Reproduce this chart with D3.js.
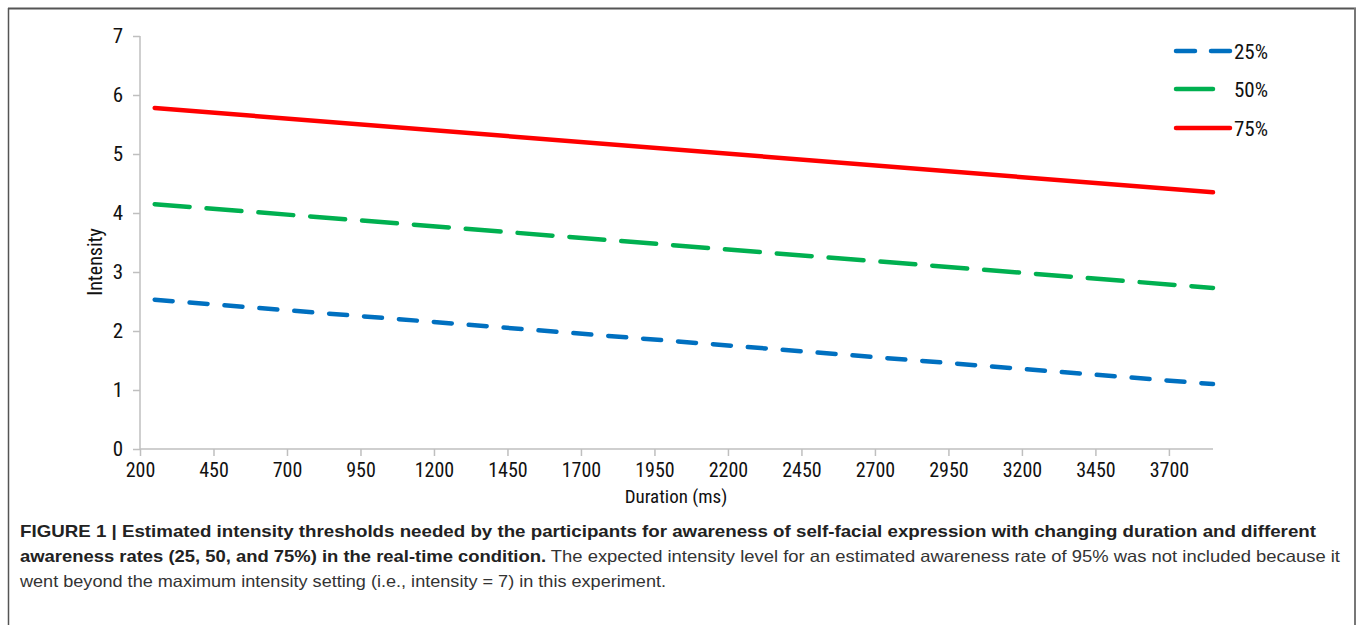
<!DOCTYPE html>
<html>
<head>
<meta charset="utf-8">
<script src="https://cdn.jsdelivr.net/npm/d3@7/dist/d3.min.js"></script>
<style>
html,body{margin:0;padding:0;background:#fff;}
svg{display:block;}
.narrow{font-family:"Liberation Sans Narrow","Roboto Condensed","Liberation Sans",Arial,sans-serif;}
</style>
</head>
<body>
<svg id="chart" width="1357" height="625"></svg>
<script>
// ---- data ----
const durations = [250, 3850];
const series25 = [2.53, 1.10];
const series50 = [4.15, 2.73];
const series75 = [5.78, 4.35];
const seriesNames = ["25%", "50%", "75%"];
const xTicks = [200,450,700,950,1200,1450,1700,1950,2200,2450,2700,2950,3200,3450,3700];
const yTicks = [0,1,2,3,4,5,6,7];
const captionBold1 = "FIGURE 1 | Estimated intensity thresholds needed by the participants for awareness of self-facial expression with changing duration and different";
const captionBold2 = "awareness rates (25, 50, and 75%) in the real-time condition.";
const captionReg2 = " The expected intensity level for an estimated awareness rate of 95% was not included because it";
const captionReg3 = "went beyond the maximum intensity setting (i.e., intensity = 7) in this experiment.";

const styles = [
  {color:"#0070c0", dash:"18,17", legendEnd:1230},
  {color:"#00b050", dash:"35,17", legendEnd:1213},
  {color:"#ff0000", dash:null, legendEnd:1230}
];

const svg = d3.select("#chart");

// frame
svg.append("line").attr("x1",8).attr("x2",1356).attr("y1",8.5).attr("y2",8.5).attr("stroke","#555").attr("stroke-width",2);
svg.append("line").attr("x1",8.5).attr("x2",8.5).attr("y1",8).attr("y2",625).attr("stroke","#555").attr("stroke-width",1.5);
svg.append("line").attr("x1",1355).attr("x2",1355).attr("y1",8).attr("y2",625).attr("stroke","#777").attr("stroke-width",2);

const x = d3.scaleLinear().domain([200, 3850]).range([140, 1213]);
const y = d3.scaleLinear().domain([0, 7]).range([449, 36]);

const axisColor = "#bfbfbf";

// y axis
const yAxis = svg.append("g").attr("transform","translate(140,0)")
  .call(d3.axisLeft(y).tickValues(yTicks).tickSize(7).tickPadding(10).tickFormat(d3.format("d")));
yAxis.select(".domain").attr("stroke",axisColor).attr("stroke-width",1.5).attr("d","M0,"+y(7)+"V"+y(0));
yAxis.selectAll(".tick line").attr("stroke",axisColor).attr("stroke-width",1.5);
yAxis.selectAll(".tick text").attr("class","narrow").attr("font-size",21).attr("fill","#111");

// x axis
const xAxis = svg.append("g").attr("transform","translate(0,449)")
  .call(d3.axisBottom(x).tickValues(xTicks).tickSize(7).tickPadding(7).tickFormat(d3.format("d")));
xAxis.select(".domain").attr("stroke",axisColor).attr("stroke-width",1.5).attr("d","M"+x(200)+",0H"+x(3850));
xAxis.selectAll(".tick line").attr("stroke",axisColor).attr("stroke-width",1.5);
xAxis.selectAll(".tick text").attr("class","narrow").attr("font-size",20).attr("fill","#111");

// axis titles
svg.append("text").attr("class","narrow").attr("x",676).attr("y",503).attr("text-anchor","middle")
  .attr("font-size",19).attr("fill","#111").text("Duration (ms)");
svg.append("text").attr("class","narrow").attr("transform","translate(102,262) rotate(-90)").attr("text-anchor","middle")
  .attr("font-size",20).attr("fill","#111").text("Intensity");

// lines
const allSeries = [series25, series50, series75];
const line = d3.line().x(d => x(d[0])).y(d => y(d[1]));
allSeries.forEach((vals, i) => {
  const pts = durations.map((d, j) => [d, vals[j]]);
  const p = svg.append("path").datum(pts).attr("d", line)
    .attr("fill","none").attr("stroke",styles[i].color).attr("stroke-width",4.5)
    .attr("stroke-linecap","round");
  if (styles[i].dash) p.attr("stroke-dasharray", styles[i].dash);
});

// legend
const legendY = [51, 89, 128];
seriesNames.forEach((name, i) => {
  const l = svg.append("line").attr("x1",1176).attr("x2",styles[i].legendEnd)
    .attr("y1",legendY[i]).attr("y2",legendY[i])
    .attr("stroke",styles[i].color).attr("stroke-width",4.5).attr("stroke-linecap","round");
  if (i === 0) l.attr("stroke-dasharray","19,16");
  svg.append("text").attr("class","narrow").attr("x",1234).attr("y",legendY[i]+7.5)
    .attr("font-size",21).attr("fill","#111").text(name);
});

// caption
const capFont = '"Liberation Sans", Arial, Helvetica, sans-serif';
function fitLine(t, target) {
  t.attr("textLength", target).attr("lengthAdjust","spacingAndGlyphs");
}
const c1 = svg.append("text").attr("x",20).attr("y",537).attr("font-family",capFont)
  .attr("font-size",16.5).attr("font-weight","bold").attr("fill","#222").text(captionBold1);
fitLine(c1, 1296);
const c2 = svg.append("text").attr("x",20).attr("y",562).attr("font-family",capFont)
  .attr("font-size",16.5).attr("fill","#333");
c2.append("tspan").attr("font-weight","bold").attr("fill","#222").text(captionBold2);
c2.append("tspan").text(captionReg2);
fitLine(c2, 1320);
const c3 = svg.append("text").attr("x",20).attr("y",587).attr("font-family",capFont)
  .attr("font-size",16.5).attr("fill","#333").text(captionReg3);
fitLine(c3, 646);
</script>
</body>
</html>
